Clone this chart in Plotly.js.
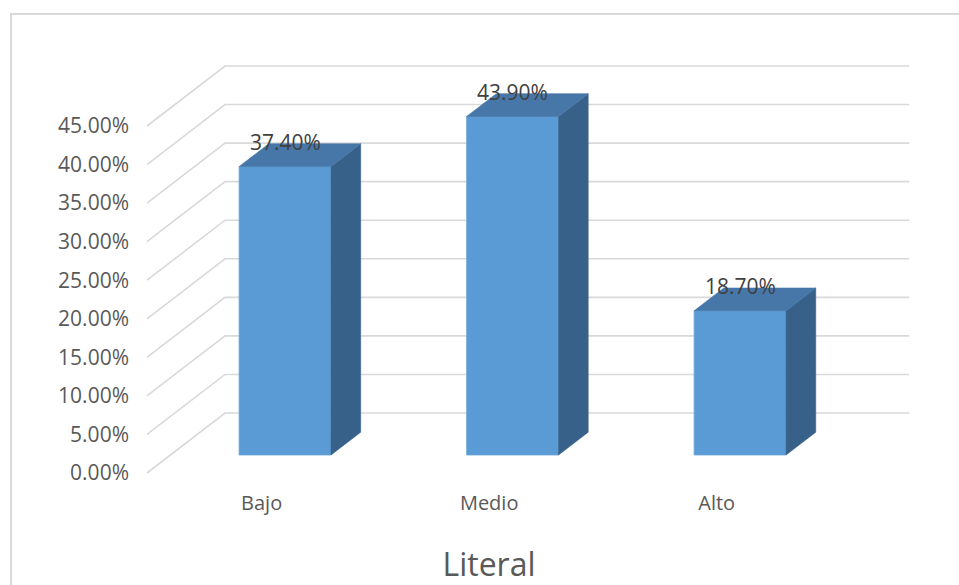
<!DOCTYPE html>
<html>
<head>
<meta charset="utf-8">
<script src="https://cdn.plot.ly/plotly-3.0.1.min.js"></script>
<style>
  html, body { margin: 0; padding: 0; background: #ffffff; }
  #chart { width: 959px; height: 585px; }
</style>
</head>
<body>
<div id="chart"></div>
<script>
// Series data
const categories = ['Bajo', 'Medio', 'Alto'];
const values = [37.4, 43.9, 18.7];          // percent
const yTicks = [0, 5, 10, 15, 20, 25, 30, 35, 40, 45];

// Oblique 3-D projection: full floor depth expressed in axis units
const DEPTH_X = 0.343;     // x shift from front edge to back wall
const DEPTH_Y = 7.78;      // y shift from front edge to back wall
const BAR_FRONT = 0.30;    // depth of a bar's front face (0 = front, 1 = back wall)
const BAR_BACK = 0.68;     // depth of a bar's rear face
const HALF_W = 0.202;      // half width of a bar
const WALL_LEFT = -0.504;  // front-left corner of the floor
const WALL_RIGHT = 2.846;  // right end of the back wall

const FONT = '"Open Sans", "Noto Sans", sans-serif';
const FRONT_COLOR = '#5B9BD5';
const TOP_COLOR = '#4777A8';
const SIDE_COLOR = '#386189';
const GRID_COLOR = '#d9d9d9';

// Gridlines: left wall diagonal + horizontal line on the back wall for each tick
const gridShapes = yTicks.map(t => ({
  type: 'path', xref: 'x', yref: 'y', layer: 'below',
  path: `M ${WALL_LEFT} ${t} L ${WALL_LEFT + DEPTH_X} ${t + DEPTH_Y} L ${WALL_RIGHT} ${t + DEPTH_Y}`,
  line: { color: GRID_COLOR, width: 1.6 }
}));

// Bar geometry derived from the projection
const fx = BAR_FRONT * DEPTH_X, fy = BAR_FRONT * DEPTH_Y;
const dx = (BAR_BACK - BAR_FRONT) * DEPTH_X, dy = (BAR_BACK - BAR_FRONT) * DEPTH_Y;
const frontX = categories.map((_, i) => i + fx);

const traces = [];

// Front faces
traces.push({
  type: 'bar',
  x: frontX,
  y: values,
  base: values.map(() => fy),
  width: values.map(() => 2 * HALF_W),
  marker: { color: FRONT_COLOR, line: { color: '#6aa6db', width: 0.8 } },
  hoverinfo: 'skip',
  showlegend: false
});

// Side and top faces
values.forEach((v, i) => {
  const xl = frontX[i] - HALF_W, xr = frontX[i] + HALF_W;
  const y0 = fy, y1 = fy + v;
  traces.push({
    type: 'scatter', mode: 'lines', fill: 'toself',
    x: [xr, xr + dx, xr + dx, xr, xr],
    y: [y0, y0 + dy, y1 + dy, y1, y0],
    fillcolor: SIDE_COLOR, line: { color: SIDE_COLOR, width: 0.6 },
    hoverinfo: 'skip', showlegend: false
  });
  traces.push({
    type: 'scatter', mode: 'lines', fill: 'toself',
    x: [xl, xr, xr + dx, xl + dx, xl],
    y: [y1, y1, y1 + dy, y1 + dy, y1],
    fillcolor: TOP_COLOR, line: { color: TOP_COLOR, width: 0.6 },
    hoverinfo: 'skip', showlegend: false
  });
});

// Value labels above each bar
const valueLabels = values.map((v, i) => ({
  xref: 'x', yref: 'y',
  x: frontX[i], y: fy + v + dy + 0.25,
  text: v.toFixed(2) + '%',
  showarrow: false, xanchor: 'center', yanchor: 'middle',
  font: { family: FONT, size: 21, color: '#404040' }
}));

const layout = {
  width: 959, height: 585,
  margin: { l: 0, r: 0, t: 0, b: 0, pad: 0 },
  paper_bgcolor: '#ffffff', plot_bgcolor: 'rgba(0,0,0,0)',
  showlegend: false,
  title: {
    text: 'Literal',
    x: 489 / 959, xanchor: 'center', xref: 'paper',
    y: 1 - 565 / 585, yanchor: 'middle', yref: 'container',
    font: { family: FONT, size: 32, color: '#595959' }
  },
  xaxis: {
    range: [-1.15, 3.065], domain: [0, 1],
    anchor: 'free', position: (585 - 489) / 585,
    tickvals: categories.map((_, i) => i), ticktext: categories,
    ticks: '', showline: false, showgrid: false, zeroline: false,
    tickfont: { family: FONT, size: 20, color: '#595959' },
    fixedrange: true
  },
  yaxis: {
    range: [-14.525, 61.34], domain: [0, 1],
    anchor: 'free', position: 147 / 959,
    tickvals: yTicks, ticktext: yTicks.map(t => t.toFixed(2) + '%'),
    ticks: '', showline: false, showgrid: false, zeroline: false,
    ticklabelstandoff: 18,
    tickfont: { family: FONT, size: 21, color: '#595959' },
    fixedrange: true
  },
  shapes: [
    // chart area border
    { type: 'rect', xref: 'paper', yref: 'paper',
      x0: 11 / 959, x1: 1.02, y0: -0.02, y1: 1 - 14 / 585,
      line: { color: GRID_COLOR, width: 2 }, fillcolor: 'rgba(0,0,0,0)', layer: 'below' },
    ...gridShapes
  ],
  annotations: valueLabels
};

Plotly.newPlot('chart', traces, layout, { displayModeBar: false, staticPlot: true });
</script>
</body>
</html>
